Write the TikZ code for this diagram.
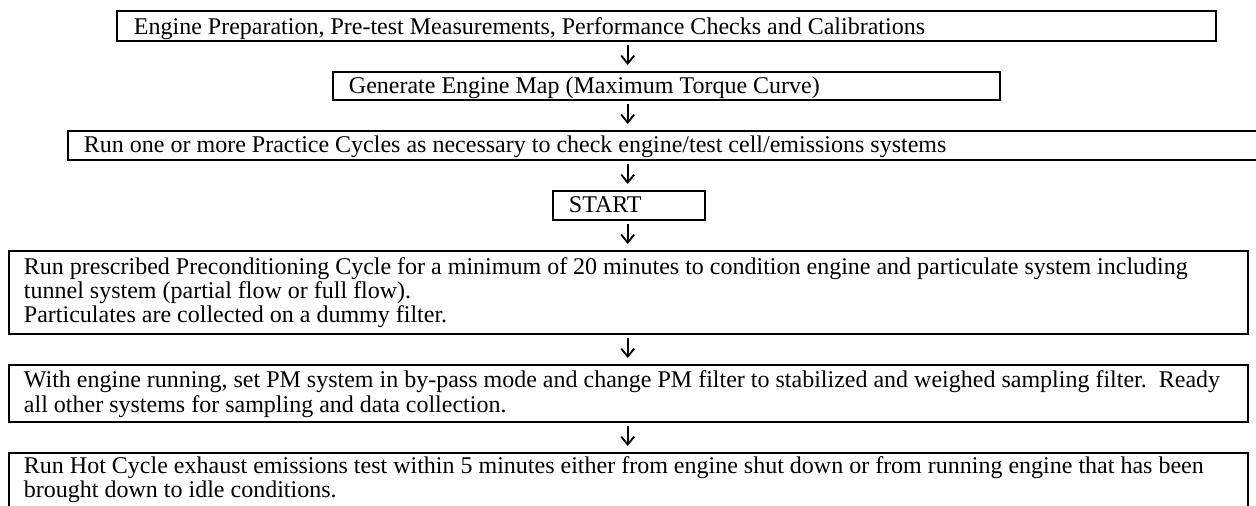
\documentclass[tikz,border=0pt]{standalone}
\usepackage{fontspec}
\setmainfont{Liberation Serif}
\usetikzlibrary{arrows.meta}
\begin{document}
\begin{tikzpicture}[x=0.5pt,y=-0.5pt,
  stepbox/.style={draw=black,line width=0.95pt,anchor=north west,inner ysep=0pt,
    align=left,font=\fontsize{12pt}{10.85pt}\selectfont,
    execute at begin node={\spaceskip=0pt\xspaceskip=0pt\frenchspacing\rightskip=0pt plus 1fil}},
  flowarrow/.style={line width=0.85pt,-{Straight Barb[length=4pt,width=6.5pt,line width=0.9pt]},
    shorten <=1.5pt,shorten >=3pt}]
\useasboundingbox (0,0) rectangle (1256,506);
\coordinate (ax) at (627.7,0);
\node[stepbox,inner xsep=8.5pt,text width=532.5pt,text height=12pt,text depth=3pt] (b1) at (116,10)
  {Engine Preparation, Pre-test Measurements, Performance Checks and Calibrations};
\node[stepbox,inner xsep=8pt,text width=317.5pt,text height=10.65pt,text depth=3.35pt] (b2) at (332,71)
  {Generate Engine Map (Maximum Torque Curve)};
\node[stepbox,inner xsep=8pt,text width=588pt,text height=10.85pt,text depth=3.65pt] (b3) at (67,130)
  {Run one or more Practice Cycles as necessary to check engine/test cell/emissions systems};
\node[stepbox,inner xsep=8pt,text width=60pt,text height=10.85pt,text depth=3.65pt] (b4) at (552,190)
  {START};
\node[stepbox,inner xsep=7.5pt,text width=604.5pt,text height=11.65pt,text depth=29.85pt] (b5) at (8,250)
  {Run prescribed Preconditioning Cycle for a minimum of 20 minutes to condition engine and particulate system including\\
   tunnel system (partial flow or full flow).\\
   Particulates are collected on a dummy filter.};
\node[stepbox,inner xsep=7.5pt,text width=604.5pt,text height=11.5pt,text depth=17pt] (b6) at (8,364)
  {With engine running, set PM system in by-pass mode and change PM filter to stabilized and weighed sampling filter.\ \ Ready\\
   all other systems for sampling and data collection.};
\node[stepbox,inner xsep=7.5pt,text width=604.5pt,text height=10.5pt,text depth=30pt] (b7) at (8,452)
  {Run Hot Cycle exhaust emissions test within 5 minutes either from engine shut down or from running engine that has been\\
   brought down to idle conditions.};
\draw[flowarrow] (b1.south -| ax) -- (b2.north -| ax);
\draw[flowarrow] (b2.south -| ax) -- (b3.north -| ax);
\draw[flowarrow] (b3.south -| ax) -- (b4.north -| ax);
\draw[flowarrow] (b4.south -| ax) -- (b5.north -| ax);
\draw[flowarrow] (b5.south -| ax) -- (b6.north -| ax);
\draw[flowarrow] (b6.south -| ax) -- (b7.north -| ax);
\end{tikzpicture}
\end{document}
